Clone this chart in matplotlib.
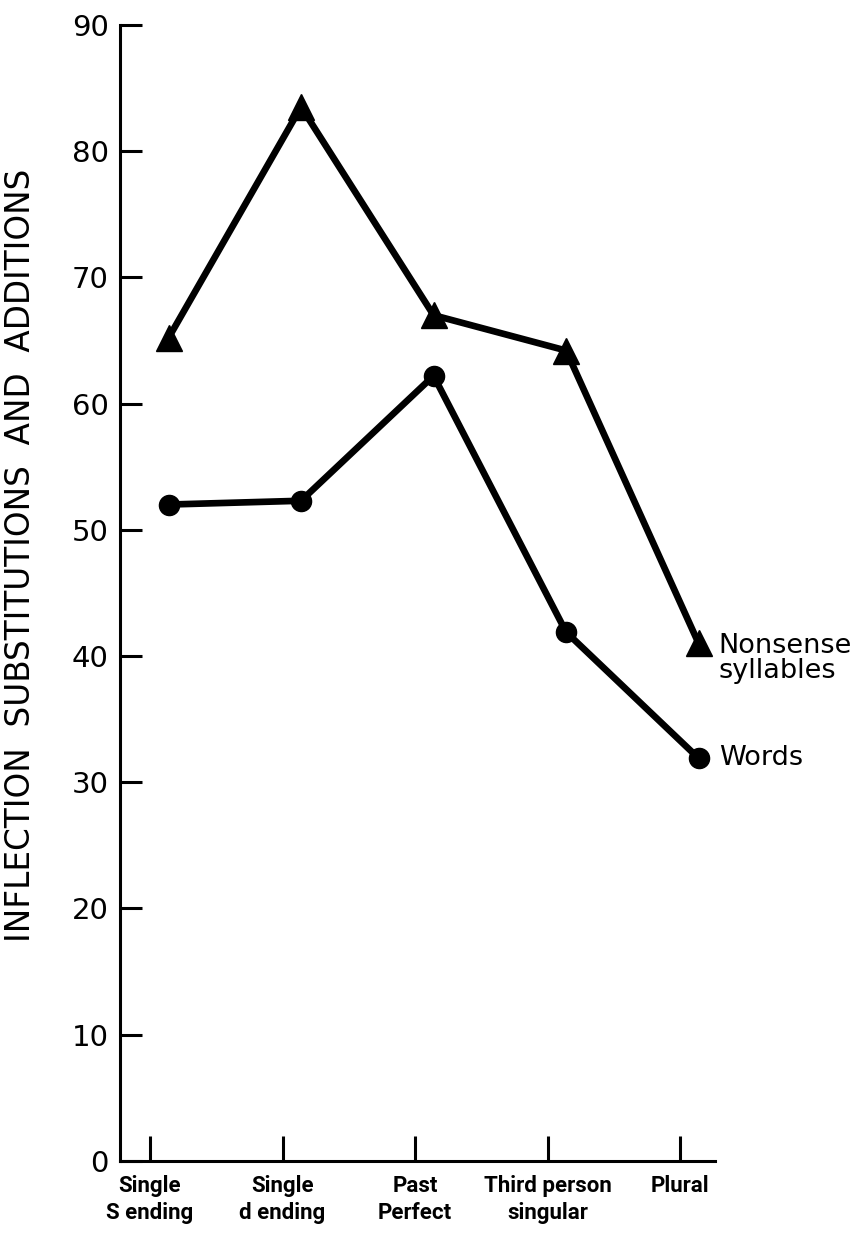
import numpy as np
import matplotlib
matplotlib.use("Agg")
import matplotlib.pyplot as plt

# 데이터
categories = ["Single\nS ending", "Single\nd ending", "Past\nPerfect",
              "Third person\nsingular", "Plural"]
nonsense = [65.2, 83.5, 67.0, 64.2, 41.0]
words = [52.0, 52.3, 62.2, 41.9, 31.9]
y_ticks = [0, 10, 20, 30, 40, 50, 60, 70, 80, 90]

plt.rcParams['font.family'] = ['DejaVu Sans']

fig = plt.figure(figsize=(8.58, 12.43), dpi=100)
ax = fig.add_axes([0.1399, 0.066, 0.6935, 0.914])

x = np.arange(len(categories))
ax.plot(x, nonsense, color='black', linewidth=4.8, marker='^',
        markersize=19, clip_on=False)
ax.plot(x, words, color='black', linewidth=4.8, marker='o',
        markersize=14.5, clip_on=False)

# 축 설정
ax.set_ylim(0, 90)
ax.set_xlim(-0.366, 4.124)
ax.set_yticks(y_ticks)
ax.set_xticks(x - 0.14)
ax.set_xticklabels(categories, family=['Roboto', 'DejaVu Sans'],
                   fontweight='bold', fontsize=16, linespacing=1.3)
ax.tick_params(axis='y', direction='in', length=16, width=2.2, pad=8,
               labelsize=21)
ax.tick_params(axis='x', direction='in', length=18, width=2.2, pad=10)

for side in ['top', 'right']:
    ax.spines[side].set_visible(False)
for side in ['left', 'bottom']:
    ax.spines[side].set_linewidth(2.2)

ax.set_ylabel('INFLECTION  SUBSTITUTIONS  AND  ADDITIONS', fontsize=23.5)
ax.yaxis.set_label_coords(-0.14, 0.533)

# 선 끝 라벨
ax.annotate('Nonsense\nsyllables', xy=(x[-1], nonsense[-1]), xytext=(14, -11),
            textcoords='offset points', ha='left', va='center',
            fontsize=19.5, linespacing=0.95)
ax.annotate('Words', xy=(x[-1], words[-1]), xytext=(15, 0),
            textcoords='offset points', ha='left', va='center',
            fontsize=19.5)

fig.savefig('out.png', dpi=100)
